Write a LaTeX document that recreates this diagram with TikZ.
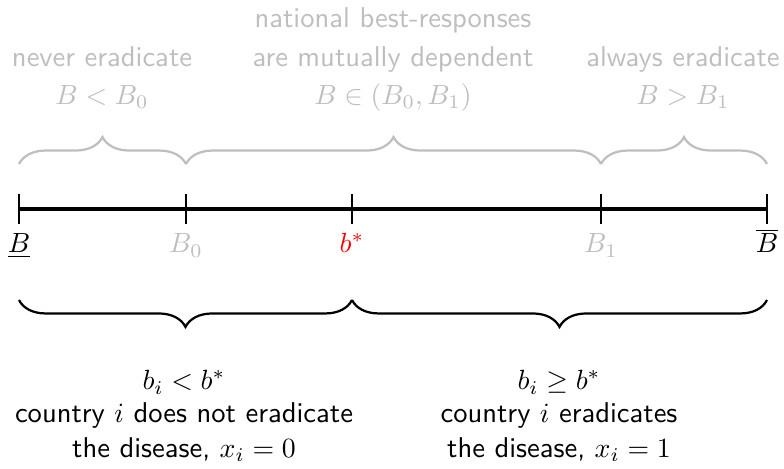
\documentclass[tikz,border=0pt]{standalone}
\usetikzlibrary{decorations.pathreplacing,calc}
\definecolor{lightgr}{RGB}{190,190,190}
\begin{document}
\begin{tikzpicture}[x=0.36pt,y=-0.36pt,
  txt/.style={font=\fontsize{10.3}{12.4}\selectfont\sffamily, anchor=base, inner sep=0pt},
  graytxt/.style={txt, text=lightgr},
  axis/.style={line width=1.1pt, black},
  midaxis/.style={line width=1.6pt, black},
  tick/.style={line width=1pt, black},
  gbrace/.style={decorate, decoration={brace, amplitude=9.7pt}, lightgr, line width=0.8pt},
  bbrace/.style={decorate, decoration={brace, amplitude=9.7pt}, black, line width=0.8pt}]
\useasboundingbox (0,0) rectangle (784,469);
% axis points
\coordinate (p0) at (19,209);
\coordinate (p1) at (186,209);
\coordinate (p2) at (352,209);
\coordinate (p3) at (601,209);
\coordinate (p4) at (767,209);
\draw[axis] (p0) -- (p1);
\draw[midaxis] (p1) -- (p3);
\draw[axis] (p3) -- (p4);
\foreach \p in {p0,p1,p2,p3,p4}
  \draw[tick] ($(\p)+(0,-15)$) -- ($(\p)+(0,15)$);
% axis labels
\node[txt] (lB) at (19,253) {$\underline{B}$};
\node[txt, text=lightgr] (lB0) at (186,253) {$B_0$};
\node[txt, text=red] (lbs) at (352,253) {$b^*$};
\node[txt, text=lightgr] (lB1) at (601,253) {$B_1$};
\node[txt] (lBo) at (767,253) {$\overline{B}$};
% upper braces
\coordinate (u0) at (19,164);
\coordinate (u1) at (186,164);
\coordinate (u3) at (601,164);
\coordinate (u4) at (767,164);
\draw[gbrace] (u0) -- (u1);
\draw[gbrace] (u1) -- (u3);
\draw[gbrace] (u3) -- (u4);
% lower braces
\coordinate (d0) at (19,300);
\coordinate (d2) at (352,300);
\coordinate (d4) at (767,300);
\draw[bbrace] (d2) -- (d0);
\draw[bbrace] (d4) -- (d2);
% top texts
\node[graytxt] (n1) at (102,66) {never eradicate};
\node[graytxt] (n2) at (102,104) {$B<B_0$};
\node[graytxt] (m1) at (393,28) {national best-responses};
\node[graytxt] (m2) at (393,66) {are mutually dependent};
\node[graytxt] (m3) at (393,104) {$B\in(B_0,B_1)$};
\node[graytxt] (a1) at (683,66) {always eradicate};
\node[graytxt] (a2) at (683,104) {$B>B_1$};
% bottom texts
\node[txt] (l1) at (184,390) {$b_i<b^*$};
\node[txt] (l2) at (184,423) {country $i$ does not eradicate};
\node[txt] (l3) at (184,457) {the disease, $x_i=0$};
\node[txt] (r1) at (559,390) {$b_i\geq b^*$};
\node[txt] (r2) at (559,423) {country $i$ eradicates};
\node[txt] (r3) at (559,457) {the disease, $x_i=1$};
\end{tikzpicture}
\end{document}
